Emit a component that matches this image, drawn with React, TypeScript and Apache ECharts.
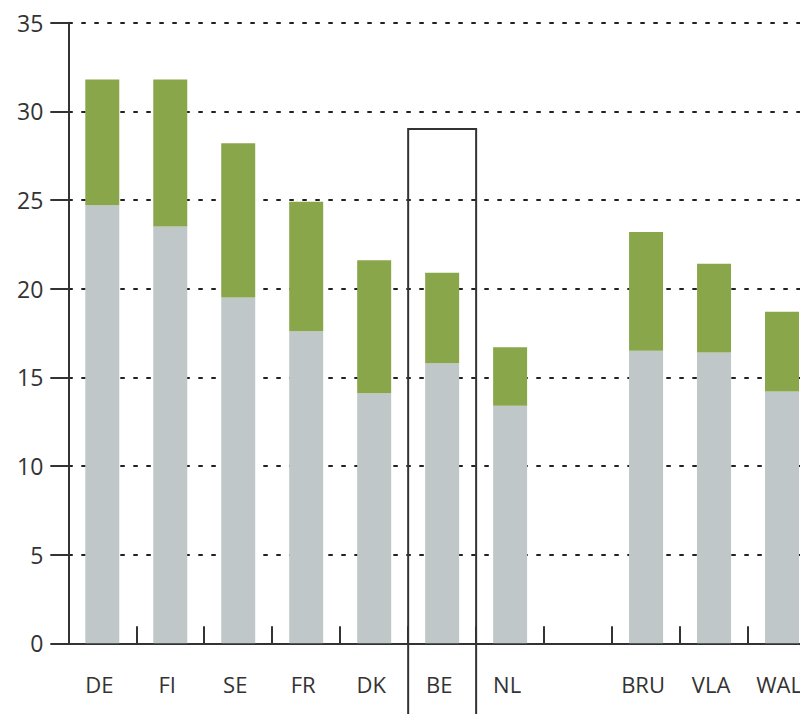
import React, { useEffect, useRef } from "react";
import * as echarts from "echarts";

const categories = ["DE", "FI", "SE", "FR", "DK", "BE", "NL", "", "BRU", "VLA", "WAL"];
const baseValues: (number | null)[] = [24.7, 23.5, 19.5, 17.6, 14.1, 15.8, 13.4, null, 16.5, 16.4, 14.2];
const extraValues: (number | null)[] = [7.1, 8.3, 8.7, 7.3, 7.5, 5.1, 3.3, null, 6.7, 5.0, 4.5];
const yTicks = { min: 0, max: 35, interval: 5 };
const highlightCategory = "BE";
const highlightTop = 29;

export default function App() {
  const ref = useRef<HTMLDivElement>(null);
  useEffect(() => {
    if (!ref.current) return;
    const chart = echarts.init(ref.current, null, { renderer: "svg" });
    const font = "'Open Sans', 'Noto Sans', sans-serif";
    chart.setOption({
      animation: false,
      grid: { left: 68.3, top: 22.7, height: 620.6, width: 747.7, containLabel: false },
      xAxis: {
        type: "category",
        data: categories,
        boundaryGap: true,
        axisLine: { lineStyle: { color: "#333", width: 2 } },
        axisTick: { show: true, inside: true, length: 17, interval: 0, lineStyle: { color: "#333", width: 2 } },
        axisLabel: {
          interval: 0,
          margin: 30,
          fontSize: 22,
          color: "#333",
          fontFamily: font,
          padding: [0, 6, 0, 0],
        },
        splitLine: { show: false },
      },
      yAxis: {
        type: "value",
        min: yTicks.min,
        max: yTicks.max,
        interval: yTicks.interval,
        axisLine: { show: true, lineStyle: { color: "#333", width: 2 } },
        axisTick: { show: true, length: 18, lineStyle: { color: "#333", width: 2 } },
        axisLabel: { margin: 25, fontSize: 23, color: "#333", fontFamily: font },
        splitLine: { show: true, lineStyle: { color: "#222", width: 2, type: [4.5, 8.5] } },
      },
      series: [
        {
          type: "bar",
          stack: "total",
          data: baseValues,
          barWidth: "50%",
          itemStyle: { color: "#bfc7c8" },
        },
        {
          type: "bar",
          stack: "total",
          data: extraValues,
          barWidth: "50%",
          itemStyle: { color: "#89a64a" },
        },
      ],
    });
    const idx = categories.indexOf(highlightCategory);
    const cx = chart.convertToPixel({ xAxisIndex: 0 }, categories[idx]) as number;
    const cn = chart.convertToPixel({ xAxisIndex: 0 }, categories[idx + 1]) as number;
    const band = cn - cx;
    const yTop = chart.convertToPixel({ yAxisIndex: 0 }, highlightTop) as number;
    chart.setOption({
      graphic: [
        {
          type: "rect",
          z: 100,
          shape: { x: cx - band / 2, y: yTop, width: band, height: 900 },
          style: { fill: "none", stroke: "#333", lineWidth: 2 },
        },
      ],
    });
    return () => chart.dispose();
  }, []);
  return (
    <div style={{ position: "absolute", left: 0, top: 0, width: 800, height: 714, overflow: "hidden", background: "#fff" }}>
      <div ref={ref} style={{ width: 840, height: 714 }} />
    </div>
  );
}
